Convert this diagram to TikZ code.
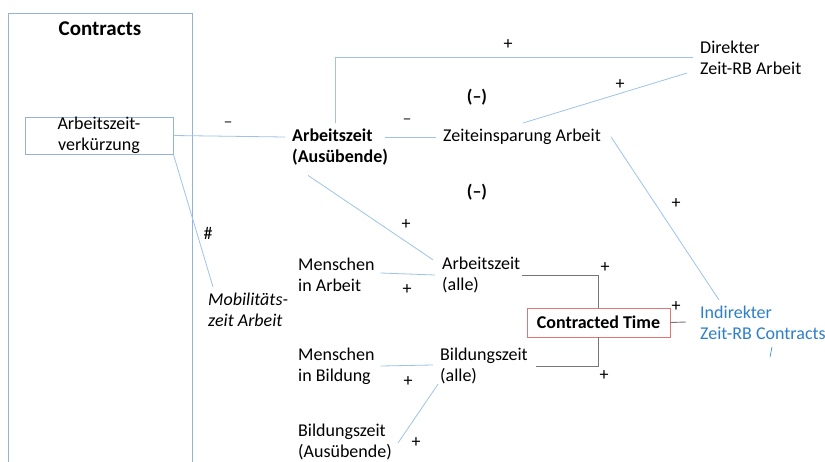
\documentclass[tikz,border=0pt]{standalone}
\usepackage{fontspec}
\setmainfont{Carlito}
\usepackage{tikz}
\definecolor{boxblue}{RGB}{149,179,215}
\definecolor{linkblue}{RGB}{157,195,230}
\definecolor{textblue}{RGB}{46,126,200}
\definecolor{linkgrey}{RGB}{118,118,118}
\definecolor{minusgrey}{RGB}{100,100,100}
\definecolor{boxred}{RGB}{226,118,118}
\tikzset{
	boxstyle/.style={rectangle,draw=boxblue,line width=0.9pt,inner sep=0pt},
	redstyle/.style={rectangle,draw=boxred,line width=0.9pt,inner sep=0pt,font=\bfseries},
	plainstyle/.style={inner sep=0pt,align=left,anchor=west},
	linkstyle/.style={draw=linkblue,line width=0.8pt},
	greystyle/.style={draw=linkgrey,line width=0.9pt},
	signstyle/.style={inner sep=0pt},
	minusstyle/.style={inner sep=0pt,text=minusgrey,font=\bfseries}
}

\begin{document}
\begin{tikzpicture}[x=1pt,y=-1pt]
	\fontsize{18}{21}\selectfont
	\useasboundingbox (0,0) rectangle (825,461);
	\node[boxstyle,minimum width=184,minimum height=470,anchor=north west] (contracts) at (8,13) {};
	\node[inner sep=0pt,font=\fontsize{21}{25}\selectfont\bfseries] (ctitle) at (100,29) {Contracts};
	\node[boxstyle,minimum width=148,minimum height=37,align=center] (verk) at (99,135.5) {Arbeitszeit-\\verkürzung};
	\node[plainstyle,font=\bfseries] (azaus) at (292,147) {Arbeitszeit\\(Ausübende)};
	\node[inner sep=0pt] (zeit) at (522,137) {Zeiteinsparung Arbeit};
	\node[plainstyle] (direk) at (700,58) {Direkter\\Zeit-RB Arbeit};
	\node[plainstyle,text=textblue] (indir) at (700,323) {Indirekter\\Zeit-RB Contracts};
	\node[plainstyle,font=\itshape] (mobil) at (208,310) {Mobilitäts-\\zeit Arbeit};
	\node[plainstyle] (menarb) at (298,275) {Menschen\\in Arbeit};
	\node[plainstyle] (menbil) at (298,366) {Menschen\\in Bildung};
	\node[plainstyle] (bilaus) at (298,442) {Bildungszeit\\(Ausübende)};
	\node[plainstyle] (arballe) at (442,275) {Arbeitszeit\\(alle)};
	\node[plainstyle] (bilalle) at (440,366) {Bildungszeit\\(alle)};
	\node[redstyle,minimum width=143,minimum height=29] (ctime) at (598.5,322.5) {Contracted Time};
	\coordinate (ctend) at (686,322);
	% signs
	\node[minusstyle] (m1) at (228,125) {\textendash};
	\node[minusstyle] (m2) at (407,122) {\textendash};
	\node[signstyle,font=\bfseries] (b1) at (477,97) {(\textendash)};
	\node[signstyle,font=\bfseries] (b2) at (477,192) {(\textendash)};
	\node[signstyle] (s1) at (508,45) {+};
	\node[signstyle] (s2) at (620,85) {+};
	\node[signstyle] (s3) at (676,204) {+};
	\node[signstyle] (s4) at (406,225) {+};
	\node[signstyle] (s5) at (407,290) {+};
	\node[signstyle] (s6) at (408,382) {+};
	\node[signstyle] (s7) at (416,443) {+};
	\node[signstyle] (s8) at (605,268) {+};
	\node[signstyle] (s9) at (604,376) {+};
	\node[signstyle] (s10) at (676,307) {+};
	\node[signstyle] (hash) at (208,233) {\#};
	% blue links
	\draw[linkstyle] (verk.east) -- ([shift={(-7,-10)}]azaus.west);
	\draw[linkstyle] (verk.south east) -- ([shift={(5,-6)}]mobil.north west);
	\draw[linkstyle] ([shift={(-3,-10)}]azaus.east) -- ([shift={(-7,0)}]zeit.west);
	\draw[linkstyle] ([shift={(43,-6)}]azaus.north west) |- ([shift={(-7,-1)}]direk.west);
	\draw[linkstyle] ([shift={(1,-6)}]zeit.north) -- ([shift={(-13,-2)}]direk.south west);
	\draw[linkstyle] ([shift={(10,0)}]zeit.east) -- ([shift={(19,-6)}]indir.north west);
	\draw[linkstyle] ([shift={(16,10)}]azaus.south west) -- ([shift={(-9,3)}]arballe.north west);
	\draw[linkstyle] ([shift={(6,-2)}]menarb.east) -- ([shift={(-7,0)}]arballe.west);
	\draw[linkstyle] ([shift={(6,0)}]menbil.east) -- ([shift={(-7,-1)}]bilalle.west);
	\draw[linkstyle] ([shift={(6,1)}]bilaus.east) -- ([shift={(-2,0)}]bilalle.south west);
	\draw[draw=textblue,line width=0.6pt] ([shift={(72,7)}]indir.south west) -- ([shift={(70,17)}]indir.south west);
	% grey links
	\draw[greystyle] ([shift={(2,0)}]arballe.east) -| (ctime.north);
	\draw[greystyle] ([shift={(8,0)}]bilalle.east) -| (ctime.south);
	\draw[greystyle] (ctime.east) -- (ctend);
\end{tikzpicture}
\end{document}
